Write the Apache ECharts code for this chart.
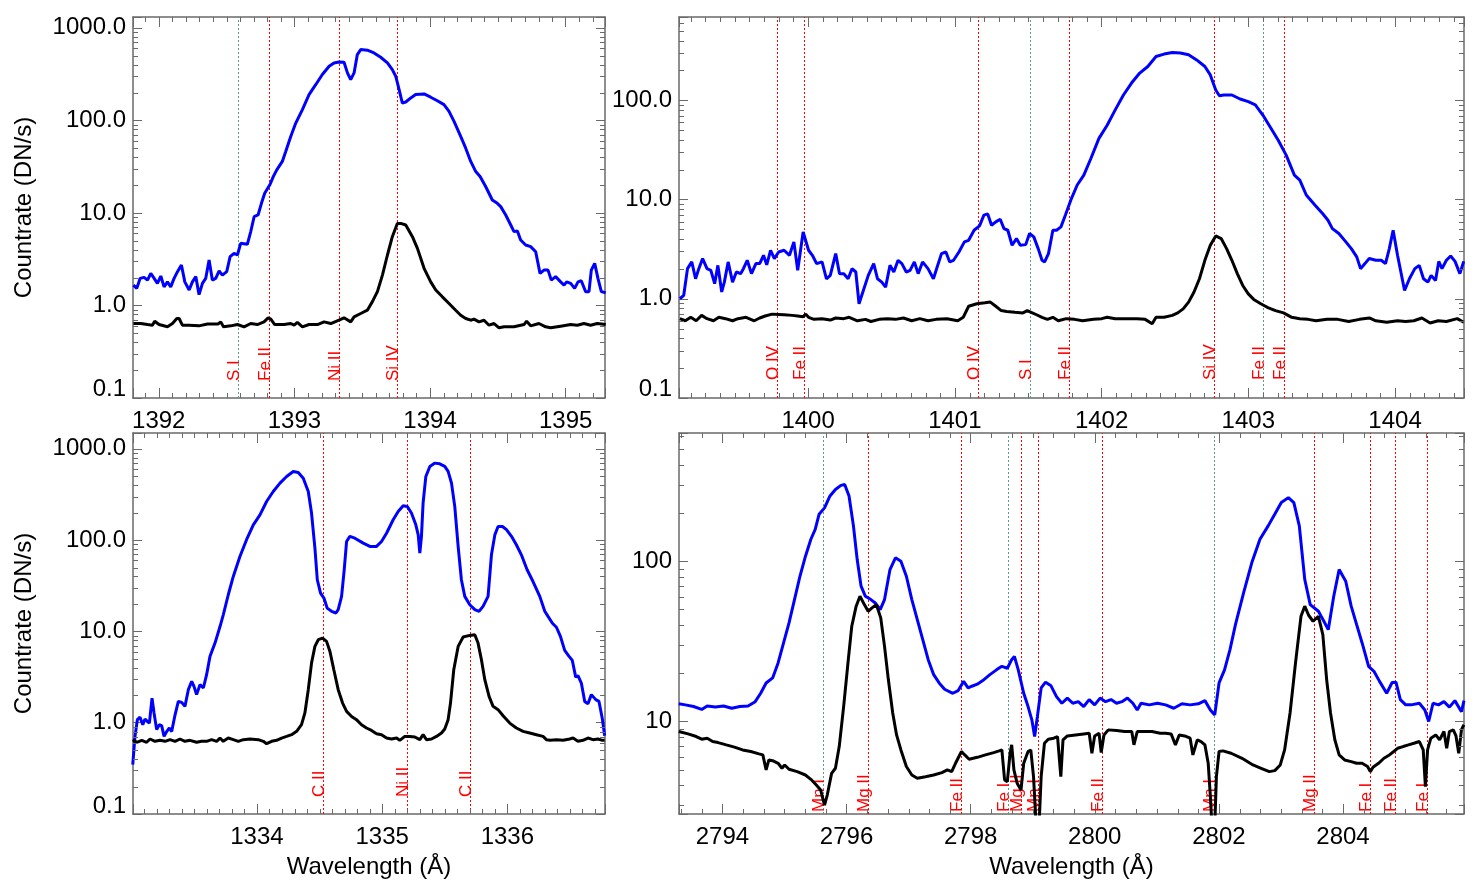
<!DOCTYPE html>
<html>
<head>
<meta charset="utf-8">
<script src="https://cdn.jsdelivr.net/npm/echarts@6/dist/echarts.min.js"></script>
<style>
html,body{margin:0;padding:0;background:#ffffff;}
#chart{width:1475px;height:886px;}
</style>
</head>
<body>
<div id="chart"></div>
<script>
// ---------------- DATA ----------------
// Top-left panel: Si IV 1393.76 region
const tlBlueWave = [1391.813,1391.838,1391.862,1391.892,1391.917,1391.941,1391.966,1391.990,1392.015,1392.039,
 1392.064,1392.088,1392.113,1392.138,1392.167,1392.192,1392.224,1392.248,1392.273,1392.297,
 1392.322,1392.346,1392.371,1392.395,1392.420,1392.445,1392.469,1392.501,1392.526,1392.555,
 1392.580,1392.604,1392.653,1392.678,1392.703,1392.732,1392.757,1392.781,1392.821,1392.845,
 1392.870,1392.911,1392.936,1392.973,1393.010,1393.059,1393.108,1393.157,1393.206,1393.256,
 1393.292,1393.329,1393.366,1393.391,1393.415,1393.440,1393.464,1393.489,1393.538,1393.587,
 1393.636,1393.686,1393.722,1393.747,1393.772,1393.796,1393.821,1393.858,1393.894,1393.956,
 1394.005,1394.054,1394.103,1394.140,1394.177,1394.226,1394.263,1394.300,1394.337,1394.369,
 1394.410,1394.459,1394.496,1394.521,1394.558,1394.595,1394.619,1394.644,1394.668,1394.705,
 1394.742,1394.779,1394.811,1394.840,1394.870,1394.894,1394.926,1394.963,1394.988,1395.007,
 1395.037,1395.066,1395.091,1395.115,1395.147,1395.172,1395.189,1395.214,1395.238,1395.263,
 1395.295];
const tlBlue = [1.66,1.53,1.96,2.01,1.88,2.22,1.96,1.73,2.08,1.59,
 1.80,1.59,1.96,2.32,2.74,1.80,1.47,1.80,2.05,1.31,
 1.73,1.96,3.10,1.88,1.96,2.36,2.13,2.32,3.37,3.66,
 3.51,4.69,4.58,6.28,9.1,9.5,12.7,16.3,20.4,24.8,
 29.2,36.0,46.1,67.1,93.5,131,190,243,313,385,
 418,428,425,326,276,326,514,582,573,536,
 481,418,354,300,215,154,158,175,190,193,
 178,163,148,125,97.5,67.1,50.1,36.0,28.0,24.8,
 19.3,13.8,12.7,11.7,9.5,7.41,6.28,6.38,5.10,4.50,
 4.32,3.81,2.22,2.41,2.41,1.88,2.05,1.80,1.66,1.80,
 1.73,1.53,1.80,1.85,1.41,1.41,2.41,2.85,1.96,1.41,
 1.37];
const tlBlackWave = [1391.813,1391.867,1391.917,1391.953,1391.970,1392.002,1392.064,1392.101,1392.133,1392.150,
 1392.174,1392.224,1392.297,1392.359,1392.437,1392.457,1392.477,1392.531,1392.580,1392.629,
 1392.678,1392.727,1392.776,1392.806,1392.826,1392.855,1392.924,1392.973,1392.998,1393.022,
 1393.059,1393.108,1393.170,1393.219,1393.268,1393.329,1393.366,1393.415,1393.440,1393.489,
 1393.538,1393.575,1393.612,1393.649,1393.686,1393.722,1393.759,1393.784,1393.821,1393.870,
 1393.907,1393.956,1394.005,1394.042,1394.091,1394.140,1394.189,1394.226,1394.263,1394.300,
 1394.324,1394.361,1394.398,1394.435,1394.472,1394.509,1394.546,1394.619,1394.693,1394.712,
 1394.742,1394.803,1394.852,1394.889,1394.963,1395.037,1395.086,1395.135,1395.184,1395.233,
 1395.295];
const tlBlack = [0.638,0.638,0.622,0.612,0.676,0.622,0.588,0.638,0.723,0.723,
 0.612,0.612,0.602,0.630,0.630,0.665,0.588,0.602,0.622,0.588,
 0.638,0.622,0.665,0.735,0.711,0.622,0.622,0.638,0.612,0.655,
 0.588,0.622,0.622,0.665,0.638,0.693,0.735,0.665,0.753,0.819,
 0.889,1.10,1.41,2.13,3.51,5.54,7.7,7.7,7.41,5.54,
 4.14,2.52,1.80,1.47,1.24,1.05,0.889,0.785,0.723,0.693,
 0.711,0.665,0.693,0.612,0.638,0.573,0.588,0.588,0.622,0.676,
 0.602,0.638,0.588,0.573,0.597,0.622,0.612,0.638,0.612,0.638,
 0.622];
const tlLineWave = [1392.585,1392.816,1393.332,1393.754];
const tlLineName = ['S I','Fe II','Ni II','Si IV'];
const tlLineColor = ['#5a9c8a','#ff0000','#ff0000','#ff0000'];

// Top-right panel: Si IV 1402.77 region
const trBlueWave = [1399.126,1399.152,1399.178,1399.207,1399.233,1399.255,1399.281,1399.311,1399.337,1399.363,
 1399.385,1399.411,1399.429,1399.455,1399.485,1399.511,1399.540,1399.559,1399.585,1399.614,
 1399.644,1399.670,1399.696,1399.718,1399.744,1399.770,1399.799,1399.836,1399.873,1399.903,
 1399.929,1399.966,1400.003,1400.029,1400.058,1400.095,1400.125,1400.151,1400.188,1400.214,
 1400.243,1400.273,1400.299,1400.325,1400.347,1400.373,1400.410,1400.447,1400.473,1400.502,
 1400.528,1400.558,1400.584,1400.613,1400.639,1400.669,1400.695,1400.724,1400.750,1400.780,
 1400.817,1400.854,1400.880,1400.909,1400.939,1400.965,1400.991,1401.028,1401.065,1401.094,
 1401.131,1401.168,1401.198,1401.224,1401.250,1401.279,1401.309,1401.335,1401.361,1401.390,
 1401.420,1401.446,1401.483,1401.509,1401.538,1401.568,1401.594,1401.612,1401.638,1401.668,
 1401.693,1401.723,1401.753,1401.790,1401.834,1401.879,1401.927,1401.982,1402.038,1402.093,
 1402.149,1402.204,1402.260,1402.315,1402.371,1402.426,1402.482,1402.537,1402.593,1402.648,
 1402.704,1402.741,1402.778,1402.803,1402.833,1402.888,1402.944,1403.000,1403.048,1403.099,
 1403.148,1403.203,1403.258,1403.314,1403.351,1403.395,1403.455,1403.506,1403.543,1403.573,
 1403.617,1403.665,1403.702,1403.739,1403.765,1403.795,1403.824,1403.869,1403.906,1403.935,
 1403.961,1403.987,1404.017,1404.065,1404.098,1404.135,1404.165,1404.194,1404.224,1404.246,
 1404.276,1404.298,1404.320,1404.350,1404.379,1404.409,1404.442,1404.468];
const trBlue = [1.0,1.08,2.01,2.35,1.59,2.01,2.54,2.01,1.93,1.42,
 2.17,1.17,1.47,2.35,1.47,1.86,1.79,2.01,2.44,1.79,
 2.26,2.26,2.74,2.20,3.08,2.54,2.96,3.08,2.74,3.74,
 1.93,4.71,3.08,2.74,2.26,2.35,1.59,1.72,2.85,1.79,
 1.79,1.59,2.01,1.86,0.89,1.17,1.72,2.26,1.59,1.47,
 1.31,2.17,1.86,2.44,2.26,1.86,1.93,2.35,1.79,2.35,
 2.01,1.59,2.10,2.85,2.96,2.35,2.44,2.96,3.74,3.88,
 4.90,5.42,6.95,7.16,5.51,5.95,6.32,5.09,4.90,3.46,
 4.04,3.46,3.51,4.54,4.20,3.20,2.44,2.35,2.85,4.90,
 4.90,5.30,6.95,9.85,14.0,17.6,25.9,41.3,56,80,
 113,149,188,219,276,292,303,299,287,255,
 219,180,127,111,113,113,103,97,90,71,
 54,39.7,28.0,17.6,15.7,11.1,8.77,7.22,6.18,5.09,
 4.54,3.74,3.20,2.64,2.01,2.26,2.54,2.44,2.44,2.26,
 3.20,4.90,2.74,1.21,1.59,2.01,2.17,1.59,1.47,1.72,
 1.53,2.38,2.01,2.44,2.70,2.38,1.79,2.38];
const trBlackWave = [1399.126,1399.163,1399.200,1399.237,1399.274,1399.311,1399.355,1399.392,1399.437,1399.485,
 1399.522,1399.577,1399.633,1399.670,1399.707,1399.755,1399.799,1399.836,1399.892,1399.929,
 1399.966,1399.984,1400.003,1400.040,1400.095,1400.151,1400.188,1400.243,1400.280,1400.336,
 1400.391,1400.428,1400.484,1400.539,1400.595,1400.650,1400.706,1400.761,1400.817,1400.872,
 1400.946,1401.020,1401.057,1401.094,1401.150,1401.205,1401.242,1401.279,1401.316,1401.353,
 1401.409,1401.464,1401.494,1401.520,1401.557,1401.594,1401.631,1401.668,1401.705,1401.760,
 1401.816,1401.871,1401.945,1402.001,1402.038,1402.093,1402.167,1402.241,1402.297,1402.345,
 1402.371,1402.426,1402.482,1402.519,1402.556,1402.593,1402.630,1402.667,1402.704,1402.741,
 1402.778,1402.815,1402.852,1402.888,1402.925,1402.962,1403.000,1403.037,1403.085,1403.129,
 1403.185,1403.240,1403.296,1403.351,1403.407,1403.462,1403.536,1403.610,1403.684,1403.758,
 1403.825,1403.869,1403.943,1404.017,1404.072,1404.128,1404.183,1404.239,1404.294,1404.350,
 1404.424,1404.468];
const trBlack = [0.63,0.60,0.65,0.60,0.68,0.63,0.60,0.65,0.63,0.60,
 0.63,0.65,0.60,0.64,0.67,0.70,0.695,0.69,0.68,0.67,
 0.66,0.70,0.65,0.62,0.63,0.61,0.64,0.63,0.65,0.60,
 0.62,0.59,0.62,0.63,0.62,0.64,0.60,0.63,0.60,0.62,
 0.63,0.60,0.65,0.84,0.89,0.91,0.925,0.84,0.76,0.745,
 0.73,0.72,0.76,0.73,0.69,0.65,0.62,0.65,0.60,0.63,
 0.62,0.60,0.62,0.63,0.65,0.63,0.63,0.63,0.62,0.56,
 0.65,0.65,0.68,0.72,0.79,0.925,1.17,1.59,2.44,3.46,
 4.30,4.04,3.20,2.44,1.79,1.36,1.12,0.985,0.89,0.82,
 0.76,0.72,0.65,0.63,0.62,0.60,0.62,0.62,0.59,0.62,
 0.64,0.60,0.58,0.60,0.59,0.60,0.64,0.57,0.60,0.59,
 0.63,0.58];
const trLineWave = [1399.788,1399.973,1401.157,1401.512,1401.775,1402.763,1403.099,1403.244];
const trLineName = ['O IV','Fe II','O IV','S I','Fe II','Si IV','Fe II','Fe II'];
const trLineColor = ['#ff0000','#ff0000','#ff0000','#5a9c8a','#ff0000','#ff0000','#5a9c8a','#ff0000'];

// Bottom-left panel: C II region
const blBlueWave = [1333.008,1333.026,1333.045,1333.066,1333.088,1333.106,1333.125,1333.141,1333.162,1333.178,
 1333.199,1333.220,1333.239,1333.258,1333.279,1333.300,1333.319,1333.346,1333.372,1333.399,
 1333.425,1333.452,1333.479,1333.497,1333.518,1333.545,1333.572,1333.598,1333.625,1333.665,
 1333.705,1333.731,1333.771,1333.811,1333.864,1333.917,1333.971,1334.024,1334.077,1334.130,
 1334.184,1334.237,1334.290,1334.330,1334.370,1334.410,1334.436,1334.463,1334.482,1334.508,
 1334.535,1334.561,1334.596,1334.631,1334.649,1334.676,1334.697,1334.716,1334.742,1334.782,
 1334.849,1334.902,1334.955,1334.995,1335.035,1335.088,1335.128,1335.168,1335.200,1335.234,
 1335.269,1335.288,1335.301,1335.314,1335.327,1335.349,1335.381,1335.421,1335.460,1335.500,
 1335.527,1335.554,1335.580,1335.607,1335.633,1335.660,1335.700,1335.740,1335.774,1335.806,
 1335.846,1335.873,1335.900,1335.926,1335.961,1335.993,1336.033,1336.072,1336.112,1336.158,
 1336.205,1336.259,1336.299,1336.325,1336.360,1336.392,1336.424,1336.458,1336.493,1336.519,
 1336.546,1336.564,1336.591,1336.618,1336.644,1336.671,1336.706,1336.732,1336.759,1336.777];
const blBlue = [0.347,0.708,1.08,1.15,0.95,1.10,1.03,0.99,1.86,1.28,
 0.84,0.95,0.93,0.708,0.80,0.875,0.80,1.22,1.71,1.67,
 1.51,2.30,2.84,2.50,2.03,2.61,2.40,3.36,5.33,7.45,
 11.3,15.2,25.2,40.0,66.2,101,147,189,265,341,
 421,498,565,551,477,341,198,81.6,36.8,26.3,
 23.2,18.0,16.6,15.9,17.3,24.2,47.3,96.6,110,105,
 92.7,85.3,85.3,96.6,119,167,206,238,234,198,
 147,114,72.1,110,254,498,641,697,685,641,
 565,421,234,85.3,36.8,24.2,19.6,17.3,16.6,18.8,
 24.2,69.0,114,141,141,130,110,89,69.0,47.3,
 35.2,24.2,16.6,14.6,12.3,11.1,8.81,6.19,5.33,4.81,
 3.16,3.27,2.72,1.71,1.61,2.03,1.79,1.71,1.10,0.72];
const blBlackWave = [1333.008,1333.040,1333.080,1333.119,1333.146,1333.186,1333.226,1333.266,1333.306,1333.346,
 1333.385,1333.425,1333.465,1333.518,1333.558,1333.598,1333.638,1333.678,1333.705,1333.731,
 1333.771,1333.811,1333.851,1333.891,1333.944,1334.011,1334.051,1334.077,1334.117,1334.157,
 1334.197,1334.237,1334.277,1334.317,1334.356,1334.383,1334.410,1334.436,1334.463,1334.490,
 1334.524,1334.556,1334.583,1334.614,1334.649,1334.684,1334.716,1334.756,1334.795,1334.835,
 1334.875,1334.915,1334.955,1334.995,1335.035,1335.075,1335.115,1335.141,1335.181,1335.221,
 1335.261,1335.301,1335.327,1335.354,1335.394,1335.434,1335.474,1335.500,1335.527,1335.546,
 1335.572,1335.607,1335.647,1335.700,1335.740,1335.766,1335.793,1335.820,1335.854,1335.886,
 1335.926,1335.966,1336.019,1336.072,1336.126,1336.179,1336.232,1336.285,1336.312,1336.344,
 1336.392,1336.445,1336.498,1336.525,1336.564,1336.604,1336.644,1336.684,1336.724,1336.759,
 1336.777];
const blBlack = [0.652,0.610,0.641,0.610,0.663,0.625,0.641,0.625,0.652,0.625,
 0.663,0.625,0.641,0.610,0.625,0.625,0.652,0.625,0.679,0.625,
 0.679,0.652,0.625,0.652,0.663,0.652,0.625,0.589,0.625,0.641,
 0.679,0.708,0.739,0.804,0.951,1.28,2.30,4.50,6.85,8.11,
 8.46,7.78,6.04,3.80,2.30,1.64,1.33,1.17,1.08,0.951,
 0.875,0.824,0.758,0.739,0.679,0.663,0.679,0.641,0.708,0.708,
 0.697,0.652,0.739,0.652,0.663,0.708,0.771,0.853,1.08,1.64,
 3.80,6.85,8.67,9.04,9.20,7.45,4.90,2.96,1.94,1.51,
 1.39,1.19,0.99,0.875,0.804,0.771,0.739,0.708,0.652,0.641,
 0.652,0.641,0.663,0.679,0.625,0.641,0.679,0.652,0.663,0.641,
 0.641];
const blLineWave = [1334.529,1335.200,1335.705];
const blLineName = ['C II','Ni II','C II'];
const blLineColor = ['#ff0000','#ff0000','#ff0000'];

// Bottom-right panel: Mg II h & k region
const brBlueWave = [2793.296,2793.402,2793.534,2793.666,2793.754,2793.886,2794.018,2794.150,2794.281,2794.413,
 2794.528,2794.616,2794.704,2794.809,2794.897,2794.985,2795.073,2795.161,2795.249,2795.337,
 2795.425,2795.495,2795.557,2795.645,2795.733,2795.821,2795.909,2795.970,2796.040,2796.111,
 2796.172,2796.234,2796.304,2796.392,2796.463,2796.542,2796.612,2796.700,2796.788,2796.876,
 2796.964,2797.052,2797.140,2797.228,2797.316,2797.404,2797.492,2797.580,2797.712,2797.799,
 2797.887,2797.958,2798.019,2798.107,2798.195,2798.310,2798.416,2798.503,2798.591,2798.661,
 2798.705,2798.767,2798.855,2798.925,2798.987,2799.031,2799.075,2799.136,2799.207,2799.295,
 2799.383,2799.470,2799.558,2799.646,2799.734,2799.822,2799.910,2799.998,2800.086,2800.174,
 2800.262,2800.350,2800.438,2800.526,2800.614,2800.684,2800.746,2800.878,2801.010,2801.142,
 2801.273,2801.405,2801.537,2801.669,2801.775,2801.863,2801.933,2802.003,2802.091,2802.179,
 2802.267,2802.398,2802.530,2802.662,2802.794,2802.900,2803.006,2803.120,2803.208,2803.296,
 2803.384,2803.472,2803.604,2803.692,2803.763,2803.851,2803.938,2804.044,2804.132,2804.220,
 2804.308,2804.413,2804.501,2804.589,2804.704,2804.792,2804.854,2804.924,2805.011,2805.099,
 2805.231,2805.319,2805.381,2805.451,2805.539,2805.627,2805.715,2805.803,2805.909,2805.950];
const brBlue = [12.9,12.7,12.4,11.9,12.5,12.3,12.5,12.1,12.4,12.5,
 13.3,15.0,17.4,18.7,23.2,30.9,41.2,57.6,80.5,107,
 137,158,196,215,255,280,297,301,255,166,
 102,69.8,60.4,57.6,54.9,49.9,57.6,88.7,105,100,
 80.5,57.6,43.2,32.4,24.3,19.6,17.4,15.9,15.0,15.6,
 17.8,16.2,16.6,17.1,18.0,19.6,21.0,22.1,21.5,24.3,
 25.5,21.0,15.0,12.4,10.2,8.06,10.7,16.2,17.6,16.7,
 14.3,13.0,14.0,13.0,13.3,12.4,13.7,12.7,14.0,13.3,
 13.7,13.0,13.3,14.0,13.0,11.8,13.0,12.7,13.0,12.7,
 12.1,12.9,12.7,12.9,13.5,11.8,11.0,17.4,21.0,28.1,
 40.2,63.4,97.7,137,166,196,232,249,232,166,
 76.8,53.6,48.7,42.2,37.4,60.4,88.7,75.0,52.4,40.2,
 30.9,22.1,20.5,17.8,15.0,17.5,17.6,13.7,12.7,12.7,
 13.0,11.8,10.0,13.0,12.7,13.3,12.3,13.5,11.5,13.5];
const brBlackWave = [2793.296,2793.446,2793.578,2793.666,2793.754,2793.842,2793.930,2794.062,2794.193,2794.325,
 2794.457,2794.589,2794.651,2794.704,2794.748,2794.809,2794.897,2794.959,2795.003,2795.073,
 2795.205,2795.337,2795.425,2795.513,2795.583,2795.645,2795.689,2795.759,2795.821,2795.882,
 2795.953,2796.023,2796.084,2796.155,2796.216,2796.287,2796.348,2796.410,2796.480,2796.551,
 2796.612,2796.674,2796.744,2796.806,2796.876,2796.964,2797.052,2797.140,2797.272,2797.404,
 2797.536,2797.624,2797.694,2797.756,2797.852,2797.905,2797.975,2798.107,2798.239,2798.371,
 2798.459,2798.503,2798.547,2798.591,2798.635,2798.661,2798.697,2798.749,2798.811,2798.855,
 2798.925,2798.969,2799.013,2799.057,2799.101,2799.136,2799.189,2799.251,2799.339,2799.400,
 2799.453,2799.488,2799.558,2799.690,2799.822,2799.910,2799.954,2799.998,2800.069,2800.104,
 2800.148,2800.218,2800.350,2800.482,2800.596,2800.631,2800.684,2800.790,2800.922,2801.054,
 2801.142,2801.230,2801.300,2801.361,2801.449,2801.537,2801.581,2801.652,2801.713,2801.775,
 2801.828,2801.863,2801.889,2801.933,2801.960,2802.003,2802.065,2802.197,2802.373,2802.549,
 2802.681,2802.813,2802.901,2802.989,2803.059,2803.147,2803.235,2803.323,2803.384,2803.446,
 2803.517,2803.604,2803.675,2803.737,2803.799,2803.869,2803.938,2804.026,2804.132,2804.220,
 2804.308,2804.396,2804.440,2804.484,2804.572,2804.660,2804.748,2804.818,2804.880,2804.968,
 2805.055,2805.143,2805.231,2805.293,2805.328,2805.363,2805.416,2805.495,2805.557,2805.627,
 2805.671,2805.715,2805.777,2805.821,2805.865,2805.909,2805.933,2805.950];
const brBlack = [8.66,8.37,8.06,7.76,7.87,7.50,7.39,7.15,6.92,6.65,
 6.50,6.28,6.19,4.99,5.76,5.70,5.49,5.11,5.36,5.04,
 4.87,4.64,4.36,4.02,3.74,3.01,3.48,4.75,5.11,6.98,
 12.4,23.2,39.3,52.4,60.4,53.6,48.7,51.1,53.6,44.3,
 29.4,18.2,11.3,8.25,6.65,5.24,4.64,4.43,4.53,4.64,
 4.80,4.99,4.87,5.49,6.50,6.19,5.82,5.98,6.19,6.40,
 6.56,6.65,4.32,4.22,6.34,7.15,4.99,4.12,3.74,5.49,
 6.50,6.65,4.53,2.2,2.2,4.53,7.32,7.76,7.87,8.06,
 4.53,7.68,8.13,8.25,8.37,8.45,6.34,8.13,8.45,6.40,
 8.25,8.87,8.78,8.66,8.66,7.15,8.66,8.66,8.66,8.45,
 8.45,8.37,7.15,8.25,8.13,7.87,6.19,7.68,7.50,7.15,
 5.49,3.40,2.2,2.2,4.53,6.50,6.56,6.34,5.90,5.36,
 5.11,4.87,4.94,5.36,6.65,11.3,23.2,45.3,52.4,46.0,
 42.2,45.3,34.8,18.2,11.3,7.68,6.19,5.76,5.62,5.49,
 5.49,5.24,4.87,5.19,5.49,5.90,6.19,6.50,6.81,6.98,
 7.15,7.32,7.50,6.65,3.93,6.65,7.87,8.25,7.68,8.66,
 6.81,8.66,8.87,8.13,6.34,8.87,9.31,9.53];
const brLineWave = [2795.618,2796.348,2797.852,2798.600,2798.811,2799.084,2800.113,2801.916,2803.534,2804.440,2804.845,2805.346];
const brLineName = ['Mn I','Mg II','Fe II','Fe I','Mg II','Mn I','Fe II','Mn I','Mg II','Fe I','Fe II','Fe I'];
const brLineColor = ['#5a9c8a','#ff0000','#ff0000','#5a9c8a','#ff0000','#ff0000','#ff0000','#5a9c8a','#ff0000','#ff0000','#ff0000','#ff0000'];

// Axis ranges / tick steps
const panelXRange = [[1391.81,1395.29],[1399.12,1404.47],[1333.01,1336.78],[2793.3,2805.95]];
const panelXStep = [1,1,1,2];
const panelXMinorSplit = [10,10,10,6];
const panelYRange = [[0.1,1310],[0.1,690],[0.1,1490],[2.65,630]];

// ---------------- CHART ----------------
const FONT = "'Liberation Sans', Arial, Helvetica, sans-serif";
const BOX = '#6a6a6a';
const zip = (xs, ys) => xs.map((x, i) => [x, ys[i]]);
const isPow10 = v => { const l = Math.log10(v); return Math.abs(l - Math.round(l)) < 1e-6; };
const isMultiple = (v, s) => Math.abs(v / s - Math.round(v / s)) < 1e-6;

const panels = [
  {grid:{left:133, top:17, width:472, height:381}, blueW:tlBlueWave, blue:tlBlue, blackW:tlBlackWave, black:tlBlack,
   lw:tlLineWave, ln:tlLineName, lc:tlLineColor, labDist:17, yFmt:1, yName:'Countrate (DN/s)', xName:'', loPad:18},
  {grid:{left:679, top:17, width:785, height:381}, blueW:trBlueWave, blue:trBlue, blackW:trBlackWave, black:trBlack,
   lw:trLineWave, ln:trLineName, lc:trLineColor, labDist:18, yFmt:1, yName:'', xName:'', loPad:18},
  {grid:{left:133, top:433, width:472, height:381}, blueW:blBlueWave, blue:blBlue, blackW:blBlackWave, black:blBlack,
   lw:blLineWave, ln:blLineName, lc:blLineColor, labDist:17, yFmt:1, yName:'Countrate (DN/s)', xName:'Wavelength (Å)', loPad:16},
  {grid:{left:679, top:433, width:785, height:381}, blueW:brBlueWave, blue:brBlue, blackW:brBlackWave, black:brBlack,
   lw:brLineWave, ln:brLineName, lc:brLineColor, labDist:2, yFmt:0, yName:'', xName:'Wavelength (Å)', loPad:0}
];

const grid = [], xAxis = [], yAxis = [], series = [];

function tickRender(params, api) {
  const cs = params.coordSys;
  const kind = api.value(2);
  const pt = api.coord([api.value(0), api.value(1)]);
  const st = {stroke: BOX, lineWidth: 1};
  if (kind === 0) {
    const x = Math.round(pt[0]) + 0.5;
    return {type:'group', children:[
      {type:'line', shape:{x1:x, y1:cs.y + cs.height, x2:x, y2:cs.y + cs.height - 5}, style:st},
      {type:'line', shape:{x1:x, y1:cs.y, x2:x, y2:cs.y + 5}, style:st}
    ]};
  }
  const y = Math.round(pt[1]) + 0.5;
  return {type:'group', children:[
    {type:'line', shape:{x1:cs.x, y1:y, x2:cs.x + 5, y2:y}, style:st},
    {type:'line', shape:{x1:cs.x + cs.width, y1:y, x2:cs.x + cs.width - 5, y2:y}, style:st}
  ]};
}

function makeLineRender(p) {
  return function (params, api) {
    const cs = params.coordSys;
    const idx = params.dataIndex;
    const pt = api.coord([api.value(0), api.value(1)]);
    const x = Math.round(pt[0]) + 0.5;
    const yb = cs.y + cs.height;
    return {type:'group', children:[
      {type:'line', shape:{x1:x, y1:yb, x2:x, y2:cs.y},
       style:{stroke:p.lc[idx], lineWidth:1, lineDash:[2,2]}},
      {type:'text', x:x + 4, y:yb - p.labDist, rotation:Math.PI / 2,
       style:{text:p.ln[idx], fill:'#ff0000', fontSize:17, fontFamily:FONT, align:'left', verticalAlign:'bottom'}}
    ]};
  };
}

panels.forEach((p, i) => {
  const [xMin, xMax] = panelXRange[i];
  const [yMin, yMax] = panelYRange[i];
  const step = panelXStep[i];
  grid.push(Object.assign({containLabel:false}, p.grid));

  const axLine = {show:true, onZero:false, lineStyle:{color:BOX, width:1.5}};
  const xBase = {type:'value', gridIndex:i, min:xMin, max:xMax, minInterval:step, maxInterval:step,
    splitLine:{show:false}, axisLine:axLine,
    axisTick:{show:true, inside:true, length:10, lineStyle:{color:BOX, width:1}},
    minorTick:{show:false}};
  xAxis.push(Object.assign({}, xBase, {position:'bottom',
    axisLabel:{show:true, fontSize:24, fontFamily:FONT, color:'#000', margin:11,
      showMinLabel:true, showMaxLabel:true,
      formatter: v => isMultiple(v, step) ? String(Math.round(v)) : ''},
    name:p.xName, nameLocation:'middle', nameGap:41,
    nameTextStyle:{fontSize:24, fontFamily:FONT, color:'#000'}}));
  xAxis.push(Object.assign({}, xBase, {position:'top', axisLabel:{show:false}}));

  const yBase = {type:'log', logBase:10, gridIndex:i, min:yMin, max:yMax,
    splitLine:{show:false}, axisLine:axLine,
    axisTick:{show:true, inside:true, length:9, lineStyle:{color:BOX, width:1}},
    minorTick:{show:false}};
  const yFmt = p.yFmt === 1
    ? (v => { if (!isPow10(v)) return ''; const s = v.toFixed(1); return Math.abs(v - yMin) < 1e-9 ? '{lo|' + s + '}' : s; })
    : (v => isPow10(v) ? String(Math.round(v)) : '');
  yAxis.push(Object.assign({}, yBase, {position:'left',
    axisLabel:{show:true, fontSize:24, fontFamily:FONT, color:'#000', margin:7,
      showMinLabel:true, showMaxLabel:true, formatter:yFmt,
      rich:{lo:{fontSize:24, fontFamily:FONT, color:'#000', padding:[0,0,p.loPad,0]}}},
    name:p.yName, nameLocation:'middle', nameGap:97, nameRotate:90,
    nameTextStyle:{fontSize:24, fontFamily:FONT, color:'#000'}}));
  yAxis.push(Object.assign({}, yBase, {position:'right', axisLabel:{show:false}}));

  // minor ticks (axis decoration) on all four sides
  const ticks = [];
  const ms = step / panelXMinorSplit[i];
  for (let k = Math.ceil(xMin / ms - 1e-9); k * ms <= xMax + 1e-9; k++) {
    const v = +(k * ms).toFixed(6);
    if (v > xMin && v < xMax && !isMultiple(v, step)) ticks.push([v, yMin, 0]);
  }
  for (let e = Math.floor(Math.log10(yMin)); e <= Math.ceil(Math.log10(yMax)); e++) {
    for (let m = 2; m <= 9; m++) {
      const v = +(m * Math.pow(10, e)).toPrecision(6);
      if (v > yMin && v < yMax) ticks.push([xMin, v, 1]);
    }
  }

  // identified spectral lines (vertical dotted lines + rotated labels)
  series.push({type:'custom', xAxisIndex:2*i, yAxisIndex:2*i, renderItem:makeLineRender(p),
    dimensions:['x','y'], encode:{x:0, y:1}, data:p.lw.map(w => [w, yMin]),
    silent:true, animation:false, z:1, clip:false});
  series.push({type:'line', name:'obs'+i, xAxisIndex:2*i, yAxisIndex:2*i,
    data:zip(p.blueW, p.blue), showSymbol:false, symbol:'none', clip:true, silent:true,
    lineStyle:{color:'#0000ff', width:3}, z:2, animation:false});
  series.push({type:'line', name:'ref'+i, xAxisIndex:2*i, yAxisIndex:2*i,
    data:zip(p.blackW, p.black), showSymbol:false, symbol:'none', clip:true, silent:true,
    lineStyle:{color:'#000000', width:3}, z:3, animation:false});
  series.push({type:'custom', xAxisIndex:2*i, yAxisIndex:2*i, renderItem:tickRender,
    dimensions:['x','y','k'], encode:{x:0, y:1}, data:ticks, silent:true, animation:false, z:4, clip:false});
});

const chart = echarts.init(document.getElementById('chart'), null, {renderer:'canvas'});
chart.setOption({animation:false, backgroundColor:'#ffffff', grid, xAxis, yAxis, series});
</script>
</body>
</html>
